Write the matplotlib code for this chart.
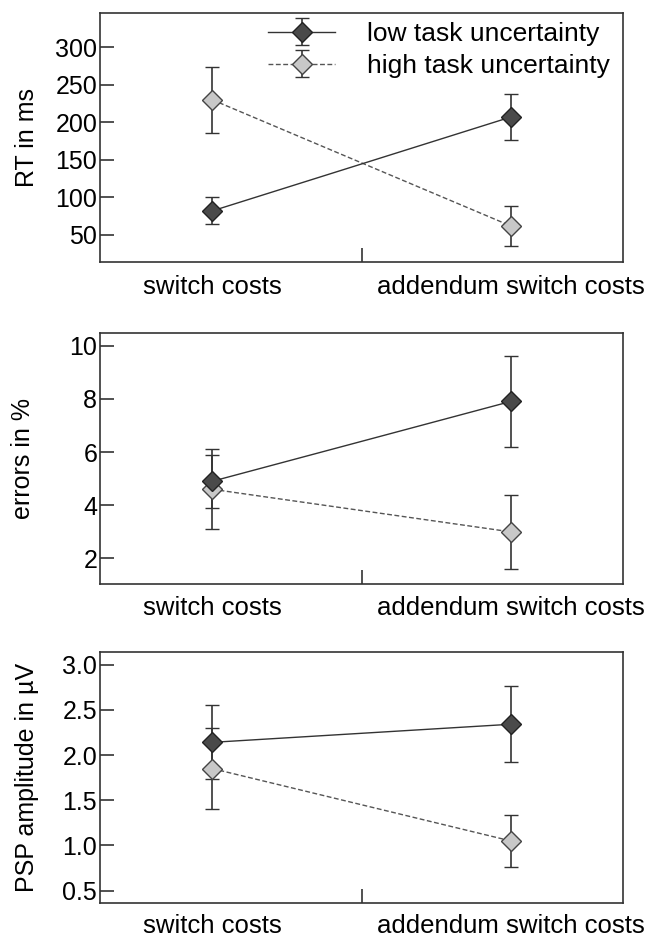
import numpy as np
import matplotlib
matplotlib.use("Agg")
from matplotlib import pyplot as plt

plt.rcParams['font.family'] = ['Liberation Sans', 'DejaVu Sans']
plt.rcParams['font.size'] = 18

categories = ['switch costs', 'addendum switch costs']
series_names = ['low task uncertainty', 'high task uncertainty']

rt_low = [82, 207]
rt_low_err = [18, 31]
rt_high = [230, 62]
rt_high_err = [44, 27]

errors_low = [4.9, 7.9]
errors_low_err = [1.0, 1.7]
errors_high = [4.6, 3.0]
errors_high_err = [1.5, 1.4]

psp_low = [2.14, 2.34]
psp_low_err = [0.41, 0.42]
psp_high = [1.85, 1.05]
psp_high_err = [0.45, 0.29]

panels = [
    ('RT in ms', rt_low, rt_low_err, rt_high, rt_high_err, (13.6, 346), np.arange(50, 301, 50), '%d'),
    ('errors in %', errors_low, errors_low_err, errors_high, errors_high_err, (1.04, 10.46), np.arange(2, 11, 2), '%d'),
    ('PSP amplitude in \u00b5V', psp_low, psp_low_err, psp_high, psp_high_err, (0.364, 3.136), np.arange(0.5, 3.01, 0.5), '%.1f'),
]
bottoms = [0.721, 0.3787, 0.0394]
heights = [0.2655, 0.2667, 0.2667]
label_x = [-0.117, -0.124, -0.117]
label_pad = [8.9, 8.9, 8.3]

fig = plt.figure(figsize=(6.51, 9.40), dpi=100)
x = np.arange(len(categories))
dark = '#333333'

for i, (ylab, lo, lo_e, hi, hi_e, ylim, yt, fmt) in enumerate(panels):
    ax = fig.add_axes([0.1536, bottoms[i], 0.8034, heights[i]])
    h_high = ax.errorbar(x, hi, yerr=hi_e, color='#555555', ls=(0, (3.5, 1.8)), lw=1.0,
                         marker='D', ms=10, mfc='#c8c8c8', mec='#444444', mew=1.0,
                         ecolor=dark, elinewidth=1.2, capsize=5, capthick=1.2,
                         label=series_names[1])
    h_low = ax.errorbar(x, lo, yerr=lo_e, color=dark, ls='-', lw=1.0,
                        marker='D', ms=10, mfc='#4a4a4a', mec='#222222', mew=1.0,
                        ecolor=dark, elinewidth=1.2, capsize=5, capthick=1.2,
                        label=series_names[0])
    ax.set_xlim(-0.376, 1.376)
    ax.set_ylim(*ylim)
    ax.set_yticks(yt)
    ax.set_yticklabels([fmt % v for v in yt])
    ax.set_xticks([0.5])
    ax.set_xticklabels([''])
    ax.set_xticks(x, minor=True)
    ax.set_xticklabels(categories, minor=True, fontsize=18.5)
    ax.tick_params(axis='x', which='major', direction='in', length=10, width=1.2, color=dark)
    ax.tick_params(axis='x', which='minor', length=0, pad=label_pad[i])
    ax.tick_params(axis='y', direction='in', length=10, width=1.2, color=dark, pad=2)
    for s in ax.spines.values():
        s.set_color(dark)
        s.set_linewidth(1.2)
    ax.set_ylabel(ylab)
    ax.yaxis.set_label_coords(label_x[i], 0.5)
    if i == 0:
        ax.legend([h_low, h_high], series_names, loc='upper left',
                  bbox_to_anchor=(0.321, 0.963), frameon=False, borderpad=0,
                  borderaxespad=0, handlelength=2.55, handletextpad=1.2,
                  labelspacing=0.3, fontsize=19)

plt.savefig('out.png', dpi=100)
